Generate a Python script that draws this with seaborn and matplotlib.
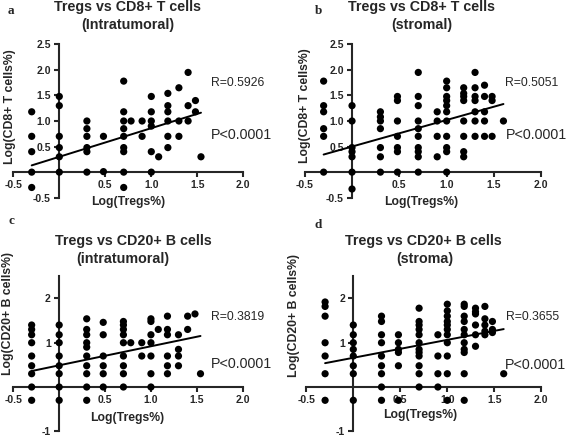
import numpy as np
import pandas as pd
import matplotlib.pyplot as plt
import seaborn as sns

W, H = 567, 436  # output size in pixels

# ---------------------------------------------------------
# data (log values)
# ---------------------------------------------------------
# a) Tregs vs CD8+ T cells (intratumoral)
a_tregs = [-0.30, -0.30, -0.30, -0.30, -0.30,
           0.00, 0.00, 0.00, 0.00, 0.00, 0.00,
           0.30, 0.30, 0.30, 0.30, 0.30, 0.30,
           0.48, 0.48,
           0.70, 0.70, 0.70, 0.70, 0.70, 0.70, 0.70, 0.70, 0.70,
           0.78,
           0.90, 0.90,
           1.00, 1.00, 1.00, 1.00, 1.00, 1.00,
           1.08,
           1.18, 1.18, 1.18, 1.18, 1.18, 1.18,
           1.30, 1.30, 1.30,
           1.40, 1.40, 1.40,
           1.48, 1.48,
           1.54]
a_cells = [1.18, 0.70, 0.40, 0.00, -0.30,
           1.48, 1.30, 0.70, 0.48, 0.30, 0.00,
           1.00, 0.85, 0.70, 0.48, 0.40, 0.00,
           0.70, 0.01,
           1.78, 1.18, 1.00, 0.85, 0.70, 0.48, 0.40, 0.00, -0.30,
           1.00,
           1.00, 0.70,
           1.48, 1.18, 1.00, 0.90, 0.40, 0.00,
           0.30,
           1.54, 1.30, 1.18, 1.00, 0.70, 0.48,
           1.65, 1.00, 0.70,
           1.95, 1.30, 1.00,
           1.40, 1.18,
           0.30]

# b) Tregs vs CD8+ T cells (stromal)
b_tregs = [-0.30, -0.30, -0.30, -0.30, -0.30, -0.30,
           0.00, 0.00, 0.00, 0.00, 0.00, 0.00, 0.00,
           0.30, 0.30, 0.30, 0.30, 0.30, 0.30, 0.30,
           0.48, 0.48, 0.48, 0.48, 0.48, 0.48, 0.48,
           0.70, 0.70, 0.70, 0.70, 0.70, 0.70, 0.70, 0.70, 0.70, 0.70,
           0.90, 0.90, 0.90, 0.90,
           1.00, 1.00, 1.00, 1.00, 1.00, 1.00, 1.00, 1.00, 1.00, 1.00, 1.00,
           1.18, 1.18, 1.18, 1.18, 1.18, 1.18, 1.18, 1.18,
           1.30, 1.30, 1.30, 1.30, 1.30, 1.30, 1.30,
           1.40, 1.40, 1.40, 1.40, 1.40,
           1.48, 1.48, 1.48,
           1.60]
b_cells = [1.78, 1.30, 1.18, 0.85, 0.70, 0.00,
           1.30, 1.00, 0.48, 0.40, 0.30, 0.00, -0.33,
           1.18, 1.08, 1.00, 0.85, 0.48, 0.30, 0.00,
           1.48, 1.40, 1.00, 0.70, 0.48, 0.40, 0.00,
           1.95, 1.48, 1.30, 1.00, 0.85, 0.70, 0.48, 0.40, 0.30, 0.00,
           1.18, 1.00, 0.70, 0.30,
           1.78, 1.65, 1.48, 1.40, 1.30, 1.18, 1.00, 0.70, 0.48, 0.40, 0.00,
           1.65, 1.54, 1.48, 1.40, 1.00, 0.70, 0.40, 0.30,
           1.95, 1.65, 1.48, 1.40, 1.18, 1.00, 0.70,
           1.70, 1.48, 1.18, 1.00, 0.70,
           1.48, 1.40, 0.70,
           1.00]

# c) Tregs vs CD20+ B cells (intratumoral)
c_tregs = [-0.30, -0.30, -0.30, -0.30, -0.30, -0.30, -0.30, -0.30, -0.30,
           0.00, 0.00, 0.00, 0.00, 0.00, 0.00, 0.00, 0.00,
           0.30, 0.30, 0.30, 0.30, 0.30, 0.30, 0.30, 0.30, 0.30, 0.30,
           0.48, 0.48, 0.48, 0.48, 0.48, 0.48,
           0.70, 0.70, 0.70, 0.70, 0.70, 0.70, 0.70, 0.70, 0.70,
           0.78,
           0.90, 0.90,
           1.00, 1.00, 1.00, 1.00, 1.00, 1.00, 1.00,
           1.08,
           1.18, 1.18, 1.18, 1.18, 1.18, 1.18,
           1.30, 1.30, 1.30, 1.30,
           1.40, 1.40,
           1.48,
           1.54]
c_cells = [1.40, 1.30, 1.18, 1.00, 0.70, 0.48, 0.30, 0.00, -0.30,
           1.40, 1.18, 1.00, 0.70, 0.48, 0.30, 0.00, -0.30,
           1.54, 1.30, 1.18, 1.00, 0.90, 0.70, 0.48, 0.30, 0.00, -0.30,
           1.46, 1.18, 0.70, 0.48, 0.30, 0.00,
           1.48, 1.40, 1.30, 1.18, 1.00, 0.70, 0.48, 0.30, 0.00,
           1.00,
           1.00, 0.70,
           1.54, 1.48, 1.18, 1.00, 0.70, 0.30, 0.00,
           1.30,
           1.60, 1.30, 1.18, 0.70, 0.48, 0.30,
           1.18, 0.85, 0.70, 0.48,
           1.60, 1.30,
           1.65,
           0.30]

# d) Tregs vs CD20+ B cells (stroma)
d_tregs = [-0.30, -0.30, -0.30, -0.30, -0.30, -0.30, -0.30,
           0.00, 0.00, 0.00, 0.00, 0.00, 0.00, 0.00, 0.00,
           0.30, 0.30, 0.30, 0.30, 0.30, 0.30, 0.30, 0.30, 0.30,
           0.48, 0.48, 0.48, 0.48, 0.48, 0.48,
           0.70, 0.70, 0.70, 0.70, 0.70, 0.70, 0.70, 0.70, 0.70, 0.70, 0.70, 0.70,
           0.90, 0.90, 0.90, 0.90,
           1.00, 1.00, 1.00, 1.00, 1.00, 1.00, 1.00, 1.00, 1.00, 1.00, 1.00,
           1.18, 1.18, 1.18, 1.18, 1.18, 1.18, 1.18, 1.18, 1.18, 1.18, 1.18,
           1.30, 1.30, 1.30, 1.30, 1.30, 1.30,
           1.40, 1.40, 1.40, 1.40, 1.40,
           1.48, 1.48, 1.48,
           1.60]
d_cells = [1.92, 1.82, 1.60, 1.00, 0.70, 0.30, -0.30,
           1.40, 1.18, 1.00, 0.85, 0.70, 0.48, 0.30, -0.30,
           1.60, 1.48, 1.18, 1.00, 0.70, 0.48, 0.30, 0.00, -0.30,
           1.18, 1.00, 0.85, 0.78, 0.48, -0.30,
           1.78, 1.48, 1.40, 1.30, 1.18, 1.00, 0.85, 0.78, 0.70, 0.48, 0.30, 0.00,
           1.18, 0.70, 0.30, 0.00,
           1.87, 1.72, 1.60, 1.48, 1.40, 1.30, 1.18, 1.00, 0.70, 0.30, -0.30,
           1.87, 1.82, 1.60, 1.48, 1.30, 1.18, 1.00, 0.85, 0.78, 0.30, -0.30,
           1.78, 1.70, 1.65, 1.40, 1.18, 0.92,
           1.82, 1.54, 1.40, 1.26, 1.18,
           1.48, 1.30, 1.23,
           0.30]

# regression lines (intercept, slope)
a_fit = (0.30, 0.56)
b_fit = (0.50, 0.52)
c_fit = (0.49, 0.43)
d_fit = (0.66, 0.405)

r_values = ["R=0.5926", "R=0.5051", "R=0.3819", "R=0.3655"]
p_text = "P<0.0001"
letters = ["a", "b", "c", "d"]
titles = [("Tregs vs CD8+ T cells", "(Intratumoral)"),
          ("Tregs vs CD8+ T cells", "(stromal)"),
          ("Tregs vs CD20+ B cells", "(intratumoral)"),
          ("Tregs vs CD20+ B cells", "(stroma)")]
y_labels = ["Log(CD8+ T cells%)", "Log(CD8+ T cells%)",
            "Log(CD20+ B cells%)", "Log(CD20+ B cells%)"]
x_label = "Log(Tregs%)"

x_ticks = [-0.5, 0.5, 1.0, 1.5, 2.0]
x_ticklabels = ["-0.5", "0.5", "1.0", "1.5", "2.0"]
cd8_ticks = [-0.5, 0.5, 1.0, 1.5, 2.0, 2.5]
cd8_ticklabels = ["-0.5", "0.5", "1.0", "1.5", "2.0", "2.5"]
cd20_ticks = [-1, 1, 2]
cd20_ticklabels = ["-1", "1", "2"]

# ---------------------------------------------------------
# style
# ---------------------------------------------------------
sns.set_style("ticks")
plt.rcParams["font.family"] = ["Liberation Sans", "DejaVu Sans"]
plt.rcParams["font.weight"] = "bold"

fig = plt.figure(figsize=(W / 100, H / 100), dpi=100)


def ftext(x, y, s, **kw):
    # place text using pixel coordinates of the picture
    fig.text(x / W, 1 - y / H, s, **kw)


def panel(box, tregs, cells, fit, ylim, yticks, yticklabels):
    left, top, right, bottom = box
    ax = fig.add_axes([left / W, 1 - bottom / H, (right - left) / W, (bottom - top) / H])
    ax.set_facecolor("none")
    df = pd.DataFrame({"tregs": tregs, "cells": cells})
    sns.scatterplot(data=df, x="tregs", y="cells", ax=ax, color="black",
                    s=27, edgecolor="none", linewidth=0, zorder=3, clip_on=False)
    fx = np.array([min(tregs), max(tregs)])
    sns.lineplot(x=fx, y=fit[0] + fit[1] * fx, ax=ax, color="black",
                 linewidth=1.4, zorder=4)

    ax.set_xlim(-0.5, 2.0)
    ax.set_ylim(*ylim)
    ax.spines[["top", "right"]].set_visible(False)
    ax.spines["left"].set_position(("data", 0))
    ax.spines["bottom"].set_position(("data", 0))
    for side in ["left", "bottom"]:
        ax.spines[side].set_linewidth(1.5)
    ax.set_xticks(x_ticks, x_ticklabels)
    ax.set_yticks(yticks, yticklabels)
    ax.tick_params(width=1.5, length=3.5, labelsize=7.5, pad=2.5)
    ax.set_xlabel("")
    ax.set_ylabel("")
    return ax


panel((13.3, 44.3, 243.3, 197.7), a_tregs, a_cells, a_fit, (-0.5, 2.5), cd8_ticks, cd8_ticklabels)
panel((304.7, 44.3, 541.3, 197.7), b_tregs, b_cells, b_fit, (-0.5, 2.5), cd8_ticks, cd8_ticklabels)
panel((13.3, 276.3, 242.7, 431.3), c_tregs, c_cells, c_fit, (-1, 2.5), cd20_ticks, cd20_ticklabels)
panel((306.3, 276.3, 541.3, 431.3), d_tregs, d_cells, d_fit, (-1, 2.5), cd20_ticks, cd20_ticklabels)

# titles (two lines each)
title_pos = [((127.5, 10.7), (127.5, 29.0)),
             ((421.8, 10.7), (421.8, 29.3)),
             ((133.0, 244.7), (122.7, 263.0)),
             ((423.0, 244.7), (424.7, 263.0))]
for (l1, l2), ((x1, y1), (x2, y2)) in zip(titles, title_pos):
    ftext(x1, y1, l1, ha="center", va="baseline", fontsize=10.3, fontweight="bold")
    ftext(x2, y2, l2, ha="center", va="baseline", fontsize=10.3, fontweight="bold")

# panel letters
letter_pos = [(7.3, 14.3), (314.7, 14.3), (8.3, 224.0), (314.7, 228.0)]
for s, (x, y) in zip(letters, letter_pos):
    ftext(x, y, s, ha="left", va="baseline", fontsize=9.5, fontweight="bold",
          family=["Liberation Serif", "DejaVu Serif"])

# axis labels
xlab_pos = [(128.0, 202.0), (421.3, 201.7), (127.5, 418.0), (420.5, 415.0)]
for x, y in xlab_pos:
    ftext(x, y, x_label, ha="center", va="center", fontsize=8.8, fontweight="bold")
ylab_pos = [(10.0, 106.7), (304.7, 105.8), (8.3, 313.5), (294.0, 315.5)]
for s, (x, y) in zip(y_labels, ylab_pos):
    ftext(x, y, s, ha="center", va="center", rotation=90, fontsize=8.8, fontweight="bold")

# R and P annotations
r_pos = [(210.7, 83.0), (504.7, 83.3), (210.7, 317.0), (505.7, 317.3)]
p_pos = [(210.7, 135.0), (505.7, 135.0), (210.7, 363.7), (504.7, 364.7)]
for s, (x, y) in zip(r_values, r_pos):
    ftext(x, y, s, ha="left", va="center", fontsize=8.8, fontweight="normal")
for x, y in p_pos:
    ftext(x, y, p_text, ha="left", va="center", fontsize=10.3, fontweight="normal")

fig.savefig("out.png", dpi=100)
